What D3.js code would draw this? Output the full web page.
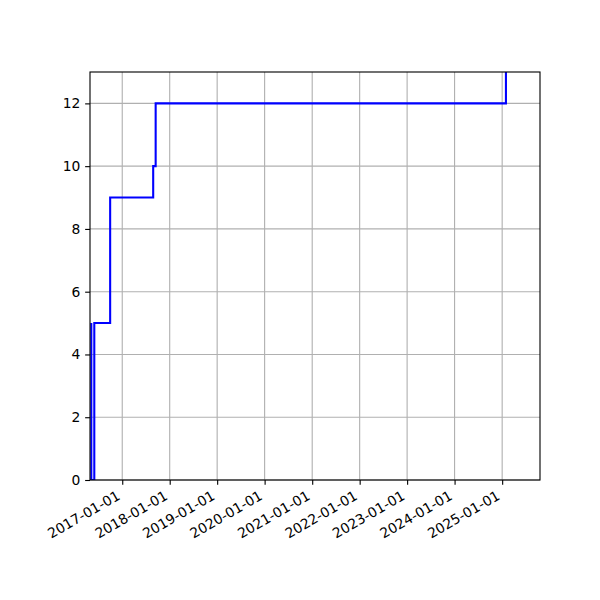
<!DOCTYPE html>
<html>
<head>
<meta charset="utf-8">
<script src="https://cdn.jsdelivr.net/npm/d3@7"></script>
<style>
  body { margin: 0; background: #fff; }
  text { font-family: "DejaVu Sans", sans-serif; fill: #000; }
</style>
</head>
<body>
<div id="grafica"></div>
<script>
// step points (matplotlib steps-pre: value changes at each date)
const fechas = ["2016-05-08", "2016-05-31", "2016-09-30", "2017-08-27", "2017-09-15", "2025-01-30", "2025-06-01"];
const valores = [5, 0, 5, 9, 10, 12, 14];
const yTicks = [0, 2, 4, 6, 8, 10, 12];
const xTicks = ["2017-01-01", "2018-01-01", "2019-01-01", "2020-01-01", "2021-01-01",
                "2022-01-01", "2023-01-01", "2024-01-01", "2025-01-01"];

const parse = d3.utcParse("%Y-%m-%d");
const datos = fechas.map((f, i) => ({ fecha: parse(f), valor: valores[i] }));

const width = 600, height = 600;
const m = { left: 90, right: 60, top: 72, bottom: 120 };
const pt = 100 / 72;          // matplotlib points -> px
const fs = 10 * pt;
const tick = 3.5 * pt;

const svg = d3.select("#grafica").append("svg")
    .attr("width", width)
    .attr("height", height);

const x = d3.scaleUtc()
    .domain([parse("2016-04-28"), parse("2025-10-19")])
    .range([m.left, width - m.right]);

const y = d3.scaleLinear()
    .domain([0, 13])
    .range([height - m.bottom, m.top]);

svg.append("clipPath").attr("id", "clip")
  .append("rect")
    .attr("x", m.left).attr("y", m.top)
    .attr("width", width - m.left - m.right)
    .attr("height", height - m.top - m.bottom);

// grid
svg.append("g")
  .selectAll("line")
  .data(xTicks.map(parse))
  .join("line")
    .attr("x1", d => x(d)).attr("x2", d => x(d))
    .attr("y1", m.top).attr("y2", height - m.bottom)
    .attr("stroke", "#b0b0b0").attr("stroke-width", 0.8 * pt);

svg.append("g")
  .selectAll("line")
  .data(yTicks)
  .join("line")
    .attr("x1", m.left).attr("x2", width - m.right)
    .attr("y1", d => y(d)).attr("y2", d => y(d))
    .attr("stroke", "#b0b0b0").attr("stroke-width", 0.8 * pt);

// line
const linea = d3.line()
    .x(d => x(d.fecha))
    .y(d => y(d.valor))
    .curve(d3.curveStepBefore);

svg.append("path")
    .datum(datos)
    .attr("clip-path", "url(#clip)")
    .attr("d", linea)
    .attr("fill", "none")
    .attr("stroke", "#0000ff")
    .attr("stroke-width", 1.5 * pt);

// axes
const xAxis = svg.append("g")
    .attr("transform", `translate(0,${height - m.bottom})`)
    .call(d3.axisBottom(x).tickValues(xTicks.map(parse)).tickFormat(d3.utcFormat("%Y-%m-%d")).tickSize(tick).tickPadding(tick));

// rotated like autofmt_xdate: right edge of the rotated box on the tick
const h = 0.97 * fs;
xAxis.selectAll(".tick text")
    .attr("text-anchor", "end")
    .attr("y", 0)
    .attr("dy", "-0.24em")
    .attr("transform", `translate(0,${2 * tick + 0.866 * h}) rotate(-30)`);

const yAxis = svg.append("g")
    .attr("transform", `translate(${m.left},0)`)
    .call(d3.axisLeft(y).tickValues(yTicks).tickSize(tick).tickPadding(tick));

[xAxis, yAxis].forEach(a => {
  a.select(".domain").remove();
  a.selectAll(".tick line").attr("stroke", "#000").attr("stroke-width", 0.8 * pt);
  a.selectAll(".tick text").style("font-family", "DejaVu Sans").style("font-size", fs + "px");
});

// frame
svg.append("rect")
    .attr("x", m.left).attr("y", m.top)
    .attr("width", width - m.left - m.right)
    .attr("height", height - m.top - m.bottom)
    .attr("fill", "none")
    .attr("stroke", "#000")
    .attr("stroke-width", 0.8 * pt);
</script>
</body>
</html>
